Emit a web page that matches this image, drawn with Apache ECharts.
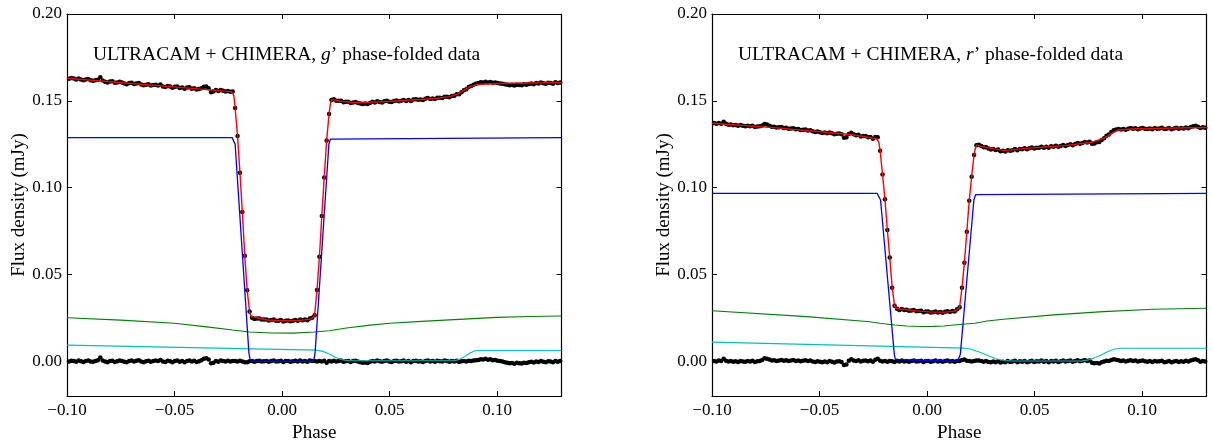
<!DOCTYPE html>
<html><head><meta charset="utf-8">
<script src="https://cdn.jsdelivr.net/npm/echarts@6/dist/echarts.min.js"></script>
<style>html,body{margin:0;padding:0;background:#fff}#c{width:1213px;height:441px}</style>
</head><body><div id="c"></div>
<script>
// phase bins of the folded light curves
const PHASE_START = -0.09908, PHASE_STEP = 0.00112;
const X_TICKS = [-0.10, -0.05, 0.00, 0.05, 0.10];
const Y_TICKS = [0.00, 0.05, 0.10, 0.15, 0.20];
const TITLES = ['g', 'r'];

// g' band: phase-folded flux (mJy)
const G_FLUX = [.1627,.1631,.1628,.1623,.1628,.1623,.1618,.1623,.1625,.1618,
.1615,.1619,.1621,.1636,.1617,.1610,.1606,.1611,.1612,.1604,
.1606,.1610,.1606,.1600,.1596,.1602,.1604,.1597,.1600,.1602,
.1594,.1589,.1593,.1595,.1588,.1591,.1593,.1588,.1594,.1583,
.1580,.1586,.1582,.1575,.1581,.1582,.1574,.1577,.1569,.1576,
.1578,.1570,.1573,.1565,.1568,.1573,.1581,.1583,.1573,.1550,
.1553,.1562,.1556,.1562,.1558,.1554,.1557,.1552,.1554,
.1459,.1298,.1086,.0860,.0608,.0409,.0286,
.0251,.0244,.0246,.0247,.0240,.0241,.0241,.0235,.0238,.0240,.0233,.0234,.0237,.0229,.0234,.0235,.0231,.0234,.0238,.0233,.0240,.0236,.0240,.0236,.0246,.0250,
.0265,.0411,.0602,.0837,.1058,.1271,.1424,.1505,
.1509,.1501,.1501,.1501,.1492,.1494,.1494,.1487,.1491,.1493,
.1488,.1484,.1481,.1484,.1481,.1488,.1494,.1491,.1497,.1493,
.1491,.1497,.1500,.1495,.1493,.1499,.1502,.1497,.1500,.1505,
.1499,.1504,.1499,.1507,.1509,.1506,.1508,.1505,.1512,.1516,
.1510,.1514,.1511,.1518,.1517,.1516,.1524,.1523,.1521,.1528,
.1529,.1538,.1538,.1550,.1561,.1566,.1579,.1585,.1593,.1598,
.1602,.1607,.1605,.1610,.1606,.1608,.1604,.1606,.1602,.1600,
.1598,.1595,.1593,.1589,.1591,.1588,.1593,.1591,.1589,.1595,
.1593,.1597,.1600,.1596,.1602,.1600,.1605,.1601,.1599,.1604,
.1603,.1599,.1607,.1602,.1606];
// g' band: residuals (mJy)
const G_RESID = [-.0002,.0003,.0001,-.0003,.0004,0,-.0004,.0002,.0005,-.0001,
-.0003,.0002,.0006,.0022,.0004,-.0002,-.0005,.0001,.0003,-.0004,
0,.0005,.0002,-.0003,-.0006,.0001,.0004,-.0002,.0003,.0006,
-.0001,-.0005,0,.0003,-.0003,.0002,.0005,.0001,.0008,-.0002,
-.0004,.0003,0,-.0005,.0002,.0004,-.0003,.0001,-.0006,.0002,
.0005,-.0001,.0003,-.0004,0,.0006,.0015,.0018,.0010,-.0012,
-.0008,.0002,-.0003,.0004,.0001,-.0002,.0003,-.0001,.0002,
.0002,-.0001,.0003,-.0002,-.0005,-.0006,0,
.0002,-.0003,.0001,.0003,-.0002,0,.0002,-.0003,.0001,.0004,-.0002,0,.0003,-.0004,.0001,.0002,-.0003,0,.0003,-.0002,.0004,-.0001,.0002,-.0003,.0005,.0002,
.0001,-.0002,.0002,-.0001,.0003,-.0008,.0001,-.0002,
.0003,-.0002,.0001,.0004,-.0003,0,.0002,-.0004,.0001,.0003,
-.0002,-.0006,-.0009,-.0007,-.0010,-.0003,.0002,-.0001,.0004,0,
-.0003,.0002,.0005,-.0001,-.0004,.0001,.0003,-.0002,0,.0004,
-.0003,.0001,-.0005,.0002,.0003,-.0001,0,-.0004,.0002,.0005,
-.0002,.0001,-.0003,.0003,0,-.0002,.0004,.0001,-.0003,.0002,
-.0001,.0003,-.0004,0,.0002,-.0002,.0003,.0001,.0004,.0006,
.0008,.0012,.0010,.0014,.0009,.0011,.0006,.0008,.0003,.0001,
-.0002,-.0005,-.0008,-.0012,-.0010,-.0014,-.0009,-.0011,-.0013,-.0008,
-.0010,-.0006,-.0003,-.0007,-.0002,-.0004,.0001,-.0003,-.0005,0,
-.0002,-.0006,.0002,-.0003,.0001];
// g' band model components: [phase, flux]
const G_TOTAL = [[-0.1,.1630],[-0.0235,.1553],[-0.0229,.1549],[-0.0224,.1530],[-0.0218,.1459],[-0.02068,.1298],[-0.01956,.1086],[-0.01844,.0860],[-0.01732,.0608],[-0.0162,.0409],[-0.01508,.0286],[-0.0145,.0259],[-0.0138,.0249],[-0.007,.0238],[0.0007,.0233],[0.0085,.0236],[0.0128,.0241],[0.014,.0247],[0.01516,.0265],[0.01628,.0411],[0.0174,.0602],[0.01852,.0837],[0.01964,.1058],[0.02076,.1271],[0.02188,.1424],[0.0226,.1490],[0.0232,.1508],[0.027,.1498],[0.033,.1490],[0.04,.1491],[0.049,.1496],[0.057,.1502],[0.064,.1508],[0.072,.1515],[0.078,.1524],[0.082,.1540],[0.085,.1565],[0.088,.1585],[0.091,.1594],[0.097,.1598],[0.105,.1601],[0.115,.1603],[0.13,.1605]];
const G_WD = [[-0.1,.1288],[-0.0232,.1288],[-0.0225,.1279],[-0.0218,.1250],[-0.0154,.0050],[-0.0149,.0012],[-0.0143,0],[0.0143,0],[0.0149,.0012],[0.0154,.0050],[0.0218,.1250],[0.0225,.1279],[0.0232,.1288],[0.13,.1288]];
const G_DISC = [[-0.1,.0251],[-0.075,.0237],[-0.05,.0219],[-0.035,.0198],[-0.023,.0180],[-0.015,.0169],[-0.005,.0163],[0.005,.0162],[0.015,.0169],[0.022,.0176],[0.03,.0192],[0.04,.0207],[0.05,.0219],[0.065,.0230],[0.08,.0240],[0.1,.0253],[0.115,.0258],[0.13,.0261]];
const G_SPOT = [[-0.1,.0093],[0.016,.0064],[0.019,.0057],[0.022,.0042],[0.025,.0022],[0.028,.0009],[0.031,.0003],[0.08,.0003],[0.0825,.0011],[0.085,.0028],[0.0875,.0048],[0.0895,.0059],[0.091,.0062],[0.13,.0062]];

// r' band: phase-folded flux (mJy)
const R_FLUX = [.1372,.1368,.1372,.1368,.1380,.1368,.1362,.1364,.1359,.1361,
.1356,.1361,.1357,.1354,.1357,.1353,.1357,.1349,.1352,.1353,
.1358,.1367,.1363,.1357,.1350,.1351,.1346,.1348,.1349,.1343,
.1345,.1339,.1341,.1342,.1336,.1338,.1332,.1333,.1335,.1329,
.1331,.1325,.1320,.1323,.1319,.1315,.1318,.1313,.1318,.1313,
.1308,.1311,.1312,.1307,.1288,.1290,.1309,.1316,.1308,.1302,
.1305,.1295,.1298,.1298,.1290,.1291,.1282,.1291,.1290,
.1213,.1075,.0933,.0756,.0597,.0424,.0320,
.0302,.0296,.0301,.0295,.0297,.0291,.0293,.0295,.0288,.0289,.0291,.0283,.0287,.0287,.0281,.0283,.0287,.0281,.0284,.0280,.0285,.0288,.0284,.0289,.0286,.0299,
.0311,.0424,.0568,.0746,.0925,.1063,.1188,.1244,
.1247,.1240,.1232,.1232,.1225,.1220,.1222,.1217,.1220,.1210,
.1212,.1208,.1215,.1212,.1216,.1222,.1216,.1222,.1221,.1227,
.1221,.1227,.1231,.1225,.1230,.1229,.1236,.1230,.1235,.1230,
.1238,.1236,.1241,.1235,.1240,.1246,.1240,.1245,.1250,.1244,
.1251,.1257,.1253,.1257,.1263,.1260,.1264,.1253,.1254,.1261,
.1263,.1275,.1284,.1299,.1306,.1321,.1330,.1335,.1338,.1335,
.1338,.1334,.1339,.1343,.1339,.1342,.1336,.1341,.1344,.1339,
.1337,.1341,.1336,.1343,.1339,.1341,.1345,.1337,.1339,.1343,
.1336,.1341,.1345,.1339,.1344,.1341,.1347,.1342,.1349,.1354,
.1356,.1351,.1343,.1348,.1345];
// r' band: residuals (mJy)
const R_RESID = [.0002,-.0001,.0004,.0001,.0014,.0003,-.0002,.0001,-.0003,0,
-.0004,.0002,-.0001,-.0003,.0001,-.0002,.0003,-.0004,0,.0002,
.0008,.0018,.0015,.0010,.0004,.0006,.0002,.0005,.0008,.0003,
.0006,.0001,.0004,.0007,.0002,.0005,0,.0003,.0006,.0001,
.0004,-.0001,-.0004,0,-.0003,-.0006,-.0002,-.0005,.0001,-.0003,
-.0007,-.0002,0,-.0004,-.0022,-.0018,.0003,.0012,.0005,.0001,
.0006,-.0002,.0003,.0005,0,.0004,-.0003,.0009,.0014,
.0003,-.0002,.0001,-.0003,.0002,0,-.0004,
.0003,-.0002,.0004,-.0001,.0002,-.0003,.0001,.0004,-.0002,0,.0003,-.0004,.0001,.0002,-.0003,0,.0004,-.0002,.0001,-.0003,.0002,.0005,-.0001,.0002,-.0003,.0001,
.0002,.0008,.0010,.0003,.0002,-.0002,.0001,.0004,
.0005,.0002,-.0003,.0001,-.0004,-.0006,-.0002,-.0005,0,-.0007,
-.0003,-.0005,.0001,-.0004,-.0002,.0003,-.0005,0,-.0003,.0002,
-.0006,-.0001,.0003,-.0004,0,-.0002,.0004,-.0003,.0001,-.0005,
.0002,-.0001,.0003,-.0004,0,.0005,-.0002,.0001,.0004,-.0003,
.0002,.0006,0,.0003,.0007,.0002,.0005,-.0008,-.0012,-.0010,
-.0013,-.0006,-.0002,.0003,.0001,.0008,.0011,.0009,.0006,.0002,
.0004,-.0001,.0003,.0006,.0001,.0004,-.0002,.0002,.0005,0,
-.0003,.0001,-.0004,.0002,-.0002,0,.0003,-.0005,-.0003,.0001,
-.0006,-.0002,.0002,-.0004,0,-.0003,.0003,-.0002,.0004,.0009,
.0011,.0006,-.0003,.0002,-.0001];
// r' band model components: [phase, flux]
const R_TOTAL = [[-0.1,.1371],[-0.07,.1344],[-0.038,.1309],[-0.03,.1296],[-0.0235,.1281],[-0.0229,.1276],[-0.0224,.1262],[-0.0218,.1213],[-0.02068,.1075],[-0.01956,.0933],[-0.01844,.0756],[-0.01732,.0597],[-0.0162,.0424],[-0.01508,.0320],[-0.0145,.0304],[-0.014,.0299],[-0.0048,.0290],[0.0021,.0283],[0.0091,.0283],[0.0128,.0289],[0.014,.0298],[0.01516,.0311],[0.01628,.0424],[0.0174,.0568],[0.01852,.0746],[0.01964,.0925],[0.02076,.1063],[0.02188,.1188],[0.0226,.1232],[0.0231,.1245],[0.027,.1232],[0.0364,.1213],[0.0456,.1226],[0.055,.1234],[0.0642,.1242],[0.0766,.1261],[0.08,.1275],[0.0828,.1288],[0.086,.1313],[0.089,.1332],[0.0952,.1338],[0.11,.1342],[0.13,.1346]];
const R_WD = [[-0.1,.0967],[-0.0232,.0967],[-0.0225,.0960],[-0.0216,.0929],[-0.0152,.0040],[-0.0147,.0010],[-0.014,0],[0.0143,0],[0.015,.0010],[0.0155,.0040],[0.0218,.0929],[0.0226,.0960],[0.0233,.0967],[0.13,.0967]];
const R_DISC = [[-0.1,.0291],[-0.056,.0257],[-0.0266,.0228],[-0.0219,.0219],[-0.015,.0209],[-0.0095,.0203],[-0.003,.0200],[0.003,.0201],[0.008,.0203],[0.0122,.0209],[0.0223,.0219],[0.028,.0232],[0.0355,.0242],[0.0588,.0267],[0.082,.0286],[0.1053,.0300],[0.13,.0305]];
const R_SPOT = [[-0.1,.0110],[0.017,.0076],[0.02,.0071],[0.024,.0055],[0.028,.0035],[0.032,.0015],[0.036,.0004],[0.04,.0002],[0.072,.0002],[0.076,.0010],[0.08,.0030],[0.084,.0055],[0.087,.0069],[0.09,.0075],[0.13,.0075]];

const FONT = 'Liberation Serif';
const fmt = v => v.toFixed(2).replace('-', '\u2212');
const GRID_LEFTS = [67, 712];

const grids = [], xAxes = [], yAxes = [], series = [], titles = [];
const panels = [
  {flux: G_FLUX, resid: G_RESID, total: G_TOTAL, wd: G_WD, disc: G_DISC, spot: G_SPOT},
  {flux: R_FLUX, resid: R_RESID, total: R_TOTAL, wd: R_WD, disc: R_DISC, spot: R_SPOT}
];
panels.forEach((p, k) => {
  grids.push({left: GRID_LEFTS[k], top: 14, width: 494.5, height: 382,
    containLabel: false, outerBoundsMode: 'none'});
  const tickCommon = {show: true, inside: true, length: 5, lineStyle: {color: '#000', width: 1}};
  const lineCommon = {show: true, onZero: false, lineStyle: {color: '#000', width: 1.2}};
  xAxes.push({type: 'value', gridIndex: k, min: -0.1, max: 0.13, position: 'bottom',
    axisLine: lineCommon, splitLine: {show: false},
    axisTick: Object.assign({customValues: X_TICKS}, tickCommon),
    axisLabel: {customValues: X_TICKS, formatter: fmt, color: '#000', fontFamily: FONT, fontSize: 17, margin: 6},
    name: 'Phase', nameLocation: 'middle', nameGap: 24,
    nameTextStyle: {color: '#000', fontFamily: FONT, fontSize: 19}});
  xAxes.push({type: 'value', gridIndex: k, min: -0.1, max: 0.13, position: 'top',
    axisLine: lineCommon, splitLine: {show: false},
    axisTick: Object.assign({customValues: X_TICKS}, tickCommon),
    axisLabel: {show: false}});
  yAxes.push({type: 'value', gridIndex: k, min: -0.02, max: 0.2, position: 'left',
    axisLine: lineCommon, splitLine: {show: false},
    axisTick: Object.assign({customValues: Y_TICKS}, tickCommon),
    axisLabel: {customValues: Y_TICKS, formatter: fmt, color: '#000', fontFamily: FONT, fontSize: 17, margin: 5},
    name: 'Flux density (mJy)', nameLocation: 'middle', nameGap: 38,
    nameTextStyle: {color: '#000', fontFamily: FONT, fontSize: 19}});
  yAxes.push({type: 'value', gridIndex: k, min: -0.02, max: 0.2, position: 'right',
    axisLine: lineCommon, splitLine: {show: false},
    axisTick: Object.assign({customValues: Y_TICKS}, tickCommon),
    axisLabel: {show: false}});
  const xi = 2 * k, yi = 2 * k;
  const pts = arr => arr.map((v, i) => [PHASE_START + i * PHASE_STEP, v]);
  const dots = arr => ({type: 'scatter', xAxisIndex: xi, yAxisIndex: yi, data: pts(arr),
    symbol: 'circle', symbolSize: 4.5, itemStyle: {color: '#000', opacity: 1}, silent: true, z: 2});
  const line = (arr, color, w) => ({type: 'line', xAxisIndex: xi, yAxisIndex: yi, data: arr,
    showSymbol: false, symbol: 'none', lineStyle: {color: color, width: w}, silent: true, z: 3});
  series.push(dots(p.flux), dots(p.resid),
    line(p.disc, '#008000', 1.1), line(p.spot, '#00bfbf', 1.1),
    line(p.wd, '#0000ff', 1.3), line(p.total, '#ff0000', 1.4));
  titles.push({text: '{a|ULTRACAM + CHIMERA, }{b|' + TITLES[k] + '}{a|\u2019 phase-folded data}',
    left: GRID_LEFTS[k] + 26, top: 45, padding: 0,
    textStyle: {fontWeight: 'normal', rich: {
      a: {fontFamily: FONT, fontSize: 19.5, fontWeight: 'normal', color: '#000'},
      b: {fontFamily: FONT, fontSize: 19.5, fontWeight: 'normal', fontStyle: 'italic', color: '#000'}}}});
});

const chart = echarts.init(document.getElementById('c'), null, {renderer: 'canvas'});
chart.setOption({animation: false, backgroundColor: '#fff', title: titles,
  grid: grids, xAxis: xAxes, yAxis: yAxes, series: series});
</script></body></html>
